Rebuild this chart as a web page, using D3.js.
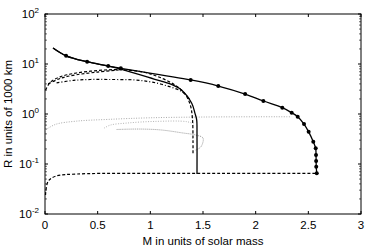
<!DOCTYPE html>
<html>
<body style="margin:0;background:#fff">
<script src="https://d3js.org/d3.v7.min.js"></script>
<style>
  text { font-family: "Liberation Sans", Arial, sans-serif; font-size: 11.5px; fill: #000; }
</style>
<script>
// curve data, [M in solar mass, R in 1000 km]
const markerCurve = [[0.076,20.9],[0.2,14.6],[0.4,11.1],[0.6,9.1],[0.72,8.2],[1.383,4.79],[1.645,3.63],[1.9,2.51],
  [2.073,1.82],[2.253,1.34],[2.342,1.06],[2.399,0.88],[2.459,0.63],[2.503,0.44],[2.547,0.28],[2.57,0.206],
  [2.573,0.151],[2.574,0.115],[2.575,0.088],[2.58,0.065]];
const solidCurve = [[0.076,20.9],[0.2,14.6],[0.4,11.1],[0.6,9.1],[0.72,7.9],[1.035,5.0],[1.2,3.9],[1.298,3.0],
  [1.393,1.64],[1.424,1.03],[1.44,0.76],[1.443,0.4],[1.443,0.063]];
const dashed1 = [[0.005,3.0],[0.05,4.3],[0.15,5.6],[0.3,6.6],[0.5,7.4],[0.7,7.7],[0.93,6.9],[1.1,5.3],[1.25,3.6],
  [1.33,2.5],[1.38,1.5],[1.4,0.8],[1.405,0.3],[1.405,0.15]];
const dashed2 = [[0.03,4.0],[0.15,5.2],[0.3,6.1],[0.5,6.9],[0.7,7.6]];
const dashDot = [[0.11,4.2],[0.27,4.7],[0.43,4.9],[0.6,4.9],[0.85,4.8],[1.0,4.4],[1.15,3.7],[1.3,2.8],[1.37,2.0]];
const bottomDashed = [[0.005,0.024],[0.03,0.045],[0.1,0.057],[0.3,0.063],[0.8,0.065],[1.5,0.065],[2.58,0.065]];
const grey1 = [[0.005,0.48],[0.1,0.62],[0.3,0.72],[0.6,0.78],[1.0,0.84],[1.5,0.87],[2.0,0.88],[2.34,0.88]];
const grey2 = [[0.56,0.52],[0.62,0.6],[0.78,0.66],[1.04,0.71],[1.35,0.7],[1.42,0.62]];
const grey3 = [[0.68,0.49],[0.9,0.5],[1.1,0.48],[1.3,0.42],[1.43,0.38],[1.5,0.33],[1.48,0.22],[1.43,0.19]];

const xTicks = [0, 0.5, 1, 1.5, 2, 2.5, 3];
const yExps = [-2, -1, 0, 1, 2];

const width = 372, height = 251,
      margin = {top: 14, right: 11, bottom: 37, left: 45};
const w = width - margin.left - margin.right,
      h = height - margin.top - margin.bottom;

const svg = d3.select("body").append("svg")
    .attr("width", width)
    .attr("height", height)
  .append("g")
    .attr("transform", `translate(${margin.left},${margin.top})`);

const x = d3.scaleLinear().domain([0, 3]).range([0, w]);
const y = d3.scaleLog().domain([0.01, 100]).range([h, 0]);

// frame
svg.append("rect").attr("width", w).attr("height", h)
  .attr("fill", "none").attr("stroke", "#000").attr("stroke-width", 1);

// x ticks (inside, bottom + top)
xTicks.forEach(t => {
  svg.append("line").attr("x1", x(t)).attr("x2", x(t)).attr("y1", h).attr("y2", h - 3).attr("stroke", "#000");
  svg.append("line").attr("x1", x(t)).attr("x2", x(t)).attr("y1", 0).attr("y2", 3).attr("stroke", "#000");
  svg.append("text").attr("x", x(t)).attr("y", h + 15).attr("text-anchor", "middle").attr("font-size", "12px").text(t);
});

// y ticks, major + minor
yExps.forEach(e => {
  const v = Math.pow(10, e);
  svg.append("line").attr("x1", 0).attr("x2", 3).attr("y1", y(v)).attr("y2", y(v)).attr("stroke", "#000");
  svg.append("line").attr("x1", w).attr("x2", w - 3).attr("y1", y(v)).attr("y2", y(v)).attr("stroke", "#000");
  const lab = svg.append("text").attr("x", -6).attr("y", y(v) + 4).attr("text-anchor", "end").attr("font-size", "12px");
  lab.append("tspan").text("10");
  lab.append("tspan").attr("dy", -5).attr("font-size", "8px").text(e);
  if (e < 2) {
    for (let k = 2; k < 10; k++) {
      const mv = k * v;
      svg.append("line").attr("x1", 0).attr("x2", 2).attr("y1", y(mv)).attr("y2", y(mv)).attr("stroke", "#000").attr("stroke-width", 0.6);
      svg.append("line").attr("x1", w).attr("x2", w - 2).attr("y1", y(mv)).attr("y2", y(mv)).attr("stroke", "#000").attr("stroke-width", 0.6);
    }
  }
});

const lineX = d3.line().x(d => x(d[0])).y(d => y(d[1])).curve(d3.curveCatmullRom);

function draw(data, color, dash, sw) {
  svg.append("path").datum(data)
    .attr("d", lineX)
    .attr("fill", "none")
    .attr("stroke", color)
    .attr("stroke-width", sw)
    .attr("stroke-dasharray", dash);
}

draw(grey1, "#aaa", "1,1.5", 1);
draw(grey2, "#b5b5b5", "1,1.5", 1);
draw(grey3, "#999", "1,1", 1);
draw(bottomDashed, "#000", "3,2", 1.2);
draw(dashed1, "#000", "3,2", 1.2);
draw(dashed2, "#000", "3,2", 1.2);
draw(dashDot, "#000", "3,2,1,2", 1.2);
draw(solidCurve, "#000", null, 1.3);
draw(markerCurve, "#000", null, 1.3);

svg.selectAll("circle.m")
  .data(markerCurve.slice(1))
  .enter().append("circle")
    .attr("class", "m")
    .attr("cx", d => x(d[0]))
    .attr("cy", d => y(d[1]))
    .attr("r", 2)
    .attr("fill", "#000");

// axis labels
svg.append("text").attr("x", w / 2).attr("y", h + 31).attr("text-anchor", "middle")
  .text("M in units of solar mass");
svg.append("text")
  .attr("transform", `translate(${-33},${h / 2}) rotate(-90)`)
  .attr("text-anchor", "middle")
  .text("R in units of 1000 km");
</script>
</body>
</html>
